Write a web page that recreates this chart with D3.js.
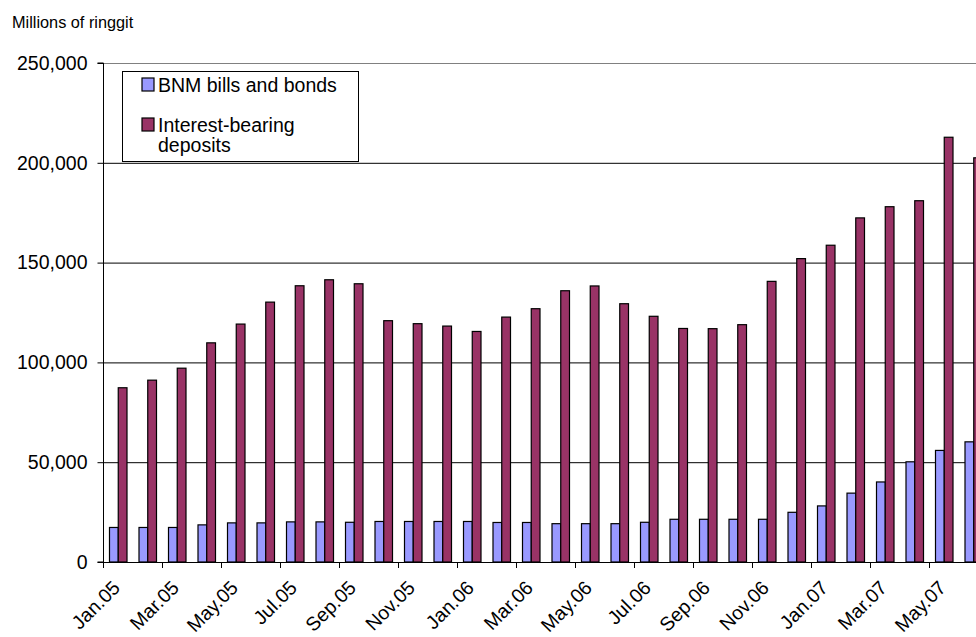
<!DOCTYPE html>
<html><head><meta charset="utf-8">
<script src="https://cdn.jsdelivr.net/npm/d3@7"></script>
<style>
html,body{margin:0;padding:0;background:#fff;}
svg{display:block;font-family:Arial,"Liberation Sans",sans-serif;}
</style></head>
<body><svg id="c" width="976" height="637"></svg>
<script>
const categories = ["Jan.05","Feb.05","Mar.05","Apr.05","May.05","Jun.05","Jul.05","Aug.05","Sep.05","Oct.05","Nov.05","Dec.05",
"Jan.06","Feb.06","Mar.06","Apr.06","May.06","Jun.06","Jul.06","Aug.06","Sep.06","Oct.06","Nov.06","Dec.06",
"Jan.07","Feb.07","Mar.07","Apr.07","May.07","Jun.07"];
const bnmBills = [17300,17300,17300,18600,19600,19600,20100,20100,19900,20300,20300,20300,
20300,19800,19800,19200,19200,19200,19900,21400,21400,21400,21400,24900,
28100,34500,40100,50200,55900,60200];
const deposits = [87300,91100,97100,109800,119200,130200,138400,141400,139400,120900,119400,118200,
115500,122700,126900,135900,138300,129400,123100,117000,116900,118900,140600,152000,
158700,172400,178000,181000,212800,202500];
const seriesNames = ["BNM bills and bonds","Interest-bearing deposits"];
const seriesColors = ["#9999FF","#993366"];
const yTicks = [0,50000,100000,150000,200000,250000];
const yTitle = "Millions of ringgit";

(function(){
const svg = d3.select("#c");
const pLeft = 103.5, step = 29.5, pBottom = 562, pTop = 63;
const pRight = pLeft + step*categories.length;
const FS = 19.5;

const x0 = d3.scaleBand().domain(categories).range([pLeft,pRight]).paddingInner(12/29.5).paddingOuter(6/29.5);
const x1 = d3.scaleBand().domain([0,1]).range([0,x0.bandwidth()]);
const y = d3.scaleLinear().domain([0,250000]).range([pBottom,pTop]);

// gridlines
svg.append("g").selectAll("line").data(yTicks.filter(d=>d>0)).join("line")
  .attr("x1",pLeft).attr("x2",pRight).attr("y1",d=>y(d)+0.5).attr("y2",d=>y(d)+0.5)
  .attr("stroke",d=>d===250000?"#808080":"#000").attr("stroke-width",1);

// bars
const rows = categories.map((c,i)=>({c, v:[bnmBills[i],deposits[i]]}));
const g = svg.append("g").selectAll("g").data(rows).join("g")
  .attr("transform",d=>`translate(${x0(d.c)},0)`);
g.selectAll("rect").data(d=>d.v.map((v,k)=>({v,k}))).join("rect")
  .attr("x",d=>x1(d.k)).attr("width",x1.bandwidth())
  .attr("y",d=>y(d.v)).attr("height",d=>pBottom-y(d.v))
  .attr("fill",d=>seriesColors[d.k]).attr("stroke","#000").attr("stroke-width",1.2);

// y axis
const ya = d3.axisLeft(y).tickValues(yTicks).tickFormat(d3.format(",")).tickSize(6).tickPadding(10);
const yg = svg.append("g").attr("transform",`translate(${pLeft},0)`).call(ya);
yg.select(".domain").attr("stroke","#000").attr("d",`M-6,${pBottom}H0V${pTop}H-6`);
yg.selectAll("text").attr("font-size",FS).attr("fill","#000").attr("font-family","Arial, Liberation Sans, sans-serif");
yg.selectAll(".tick line").attr("stroke","#000");

// x axis
const xa = svg.append("g");
xa.append("line").attr("x1",pLeft).attr("x2",pRight).attr("y1",pBottom+0.5).attr("y2",pBottom+0.5).attr("stroke","#000");
const tickIdx = d3.range(0,categories.length+1,2);
xa.selectAll("line.t").data(tickIdx).join("line").attr("class","t")
  .attr("x1",i=>pLeft+i*step).attr("x2",i=>pLeft+i*step).attr("y1",pBottom).attr("y2",pBottom+6).attr("stroke","#000");
xa.selectAll("text").data(categories.filter((c,i)=>i%2===0)).join("text")
  .attr("transform",c=>`translate(${x0(c)+x0.bandwidth()/2+3},${pBottom+27}) rotate(-45)`)
  .attr("text-anchor","end").attr("font-size",FS).attr("fill","#000").text(c=>c);

// y title
svg.append("text").attr("x",12).attr("y",28).attr("font-size",16.3).attr("fill","#000").text(yTitle);

// legend
const lg = svg.append("g");
lg.append("rect").attr("x",122.5).attr("y",71.5).attr("width",236).attr("height",90).attr("fill","#fff").attr("stroke","#000");
const legendItems = [{name:["BNM bills and bonds"],yy:78},{name:["Interest-bearing","deposits"],yy:118}];
legendItems.forEach((it,k)=>{
  lg.append("rect").attr("x",142).attr("y",it.yy).attr("width",12).attr("height",13)
    .attr("fill",seriesColors[k]).attr("stroke","#000").attr("stroke-width",1.2);
  const t = lg.append("text").attr("x",158).attr("y",it.yy+13.5).attr("font-size",FS).attr("fill","#000");
  it.name.forEach((s,j)=>t.append("tspan").attr("x",158).attr("dy",j?20.5:0).text(s));
});
})();
</script></body></html>
